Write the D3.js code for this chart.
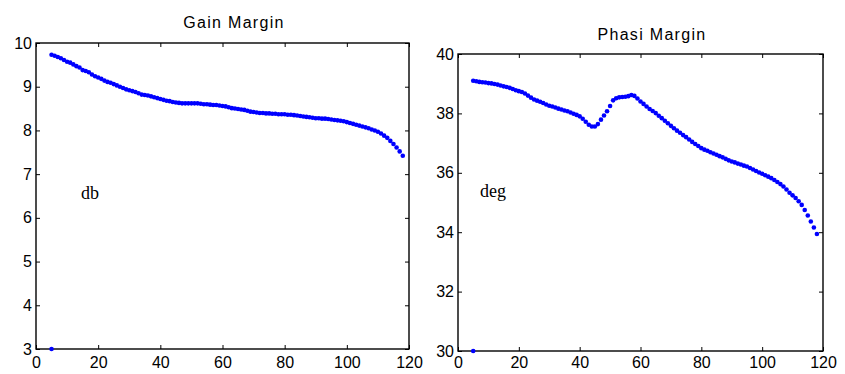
<!DOCTYPE html>
<html>
<head>
<meta charset="utf-8">
<script src="https://cdn.jsdelivr.net/npm/d3@7/dist/d3.min.js"></script>
<style>
  html, body { margin: 0; padding: 0; background: #fff; }
  svg { display: block; }
  .tick text { font-family: "Liberation Sans", Arial, sans-serif; font-size: 16px; fill: #000; }
</style>
</head>
<body>
<svg id="chart" width="845" height="374"></svg>
<script>
// ---------- data ----------
const xStart = 5;
const gainValues = [
  9.73, 9.71, 9.68, 9.65, 9.61, 9.57, 9.55, 9.51, 9.47, 9.44,
  9.38, 9.36, 9.33, 9.28, 9.24, 9.21, 9.18, 9.14, 9.11, 9.09,
  9.06, 9.03, 9.00, 8.97, 8.94, 8.92, 8.90, 8.88, 8.85, 8.82,
  8.81, 8.80, 8.78, 8.76, 8.74, 8.72, 8.70, 8.68, 8.67, 8.65,
  8.64, 8.63, 8.62, 8.62, 8.62, 8.62, 8.62, 8.62, 8.61, 8.60,
  8.60, 8.59, 8.58, 8.58, 8.57, 8.56, 8.55, 8.53, 8.51, 8.50,
  8.49, 8.48, 8.47, 8.45, 8.43, 8.42, 8.41, 8.40, 8.40, 8.39,
  8.39, 8.38, 8.38, 8.37, 8.37, 8.37, 8.36, 8.36, 8.35, 8.34,
  8.33, 8.32, 8.31, 8.30, 8.29, 8.28, 8.28, 8.27, 8.27, 8.26,
  8.25, 8.24, 8.23, 8.22, 8.21, 8.19, 8.17, 8.15, 8.13, 8.11,
  8.09, 8.07, 8.05, 8.02, 8.00, 7.97, 7.93, 7.88, 7.83, 7.76,
  7.69, 7.61, 7.52, 7.42
];
const phaseValues = [
  39.10, 39.08, 39.06, 39.05, 39.04, 39.02, 39.01, 38.99, 38.97, 38.94,
  38.91, 38.89, 38.86, 38.82, 38.78, 38.75, 38.72, 38.67, 38.60, 38.53,
  38.47, 38.43, 38.39, 38.35, 38.30, 38.26, 38.23, 38.20, 38.16, 38.13,
  38.10, 38.07, 38.03, 37.99, 37.95, 37.90, 37.82, 37.72, 37.62, 37.56,
  37.56, 37.64, 37.79, 37.93, 38.07, 38.25, 38.44, 38.51, 38.54, 38.55,
  38.56, 38.58, 38.62, 38.59, 38.50, 38.40, 38.32, 38.23, 38.15, 38.08,
  38.01, 37.92, 37.84, 37.75, 37.67, 37.58, 37.50, 37.42, 37.35, 37.27,
  37.20, 37.12, 37.04, 36.97, 36.90, 36.83, 36.78, 36.74, 36.69, 36.65,
  36.61, 36.56, 36.52, 36.47, 36.42, 36.38, 36.35, 36.31, 36.28, 36.24,
  36.21, 36.16, 36.11, 36.06, 36.01, 35.97, 35.92, 35.87, 35.82, 35.76,
  35.69, 35.62, 35.54, 35.44, 35.33, 35.24, 35.15, 35.04, 34.92, 34.75,
  34.56, 34.36, 34.16, 33.94
];
const gainStray = [{x: 5, y: 3}];
const phaseStray = [{x: 5, y: 30}];
const xTicks = [0, 20, 40, 60, 80, 100, 120];
const gainTicks = [3, 4, 5, 6, 7, 8, 9, 10];
const phaseTicks = [30, 32, 34, 36, 38, 40];
const titles = ["Gain Margin", "Phasi Margin"];
const unitLabels = ["db", "deg"];

// ---------- drawing ----------
const svg = d3.select("#chart");
const blue = "#0000ff";
const fmt = d3.format("d");

function panel(cfg) {
  const x = d3.scaleLinear().domain([0, 120]).range([cfg.x0, cfg.x1]);
  const y = d3.scaleLinear().domain(cfg.yDomain).range([cfg.y1, cfg.y0]);
  const g = svg.append("g");

  // inner ticks
  g.append("g").attr("transform", `translate(0,${cfg.y1})`)
    .call(d3.axisBottom(x).tickValues(xTicks).tickFormat(fmt).tickSize(-4).tickSizeOuter(0).tickPadding(cfg.xPad));
  g.append("g").attr("transform", `translate(0,${cfg.y0})`)
    .call(d3.axisTop(x).tickValues(xTicks).tickSize(-4).tickSizeOuter(0).tickFormat(""));
  g.append("g").attr("transform", `translate(${cfg.x0},0)`)
    .call(d3.axisLeft(y).tickValues(cfg.yTicks).tickFormat(fmt).tickSize(-4).tickSizeOuter(0).tickPadding(cfg.yPad));
  g.append("g").attr("transform", `translate(${cfg.x1},0)`)
    .call(d3.axisRight(y).tickValues(cfg.yTicks).tickSize(-4).tickSizeOuter(0).tickFormat(""));
  g.selectAll(".domain").remove();
  g.selectAll(".tick line").attr("stroke", "#000").attr("stroke-width", 1);

  g.append("rect")
    .attr("x", cfg.x0).attr("y", cfg.y0)
    .attr("width", cfg.x1 - cfg.x0).attr("height", cfg.y1 - cfg.y0)
    .attr("fill", "none").attr("stroke", "#000").attr("stroke-width", 1.4);

  const pts = cfg.values.map((v, i) => ({x: xStart + i, y: v})).concat(cfg.stray);
  g.append("g").selectAll("circle").data(pts).join("circle")
    .attr("cx", d => x(d.x)).attr("cy", d => y(d.y))
    .attr("r", 2.3).attr("fill", blue);

  g.append("text").attr("x", cfg.titleX).attr("y", cfg.titleY)
    .attr("text-anchor", "middle")
    .attr("font-family", "Liberation Sans, Arial, sans-serif")
    .attr("font-size", 16).attr("letter-spacing", 1.3)
    .text(cfg.title);

  g.append("text").attr("x", cfg.unitX).attr("y", cfg.unitY)
    .attr("font-family", "Liberation Serif, Times New Roman, serif")
    .attr("font-size", 18)
    .text(cfg.unit);
}

panel({x0: 36, x1: 409, y0: 43, y1: 349, yDomain: [3, 10], yTicks: gainTicks,
  values: gainValues, stray: gainStray, title: titles[0], titleX: 234, titleY: 28,
  unit: unitLabels[0], unitX: 81, unitY: 199, xPad: 8, yPad: 4});
panel({x0: 458, x1: 823, y0: 54, y1: 351, yDomain: [30, 40], yTicks: phaseTicks,
  values: phaseValues, stray: phaseStray, title: titles[1], titleX: 652, titleY: 40,
  unit: unitLabels[1], unitX: 480, unitY: 197, xPad: 6, yPad: 4});
</script>
</body>
</html>
